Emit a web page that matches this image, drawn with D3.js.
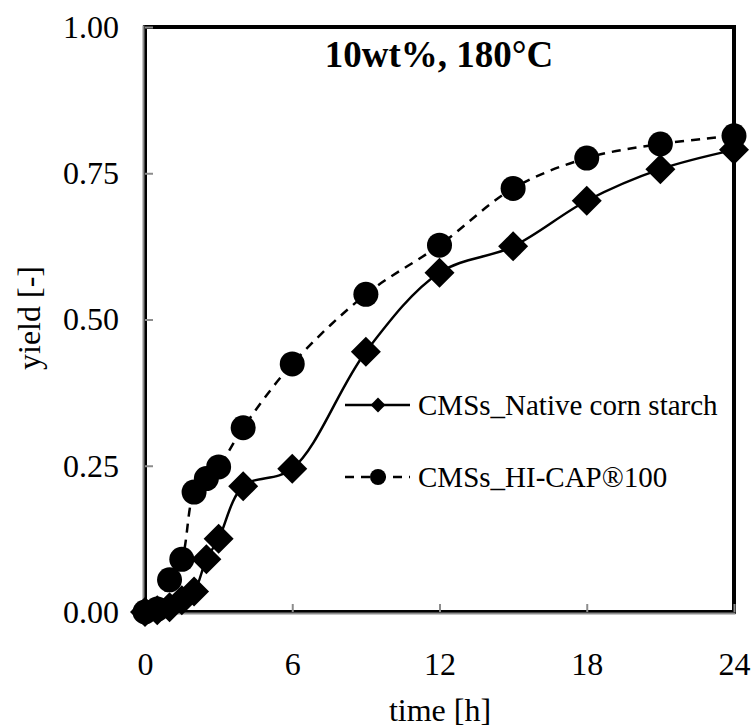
<!DOCTYPE html>
<html>
<head>
<meta charset="utf-8">
<script src="https://cdn.jsdelivr.net/npm/d3@7"></script>
<style>
  body { margin: 0; background: #fff; }
  svg text { font-family: "Liberation Serif", "Times New Roman", serif; fill: #000; }
</style>
</head>
<body>
<div class="yield-chart"></div>
<script>
// time points (h) and yields
var timeNative = [0, 0.5, 1, 1.5, 2, 2.5, 3, 4, 6, 9, 12, 15, 18, 21, 24]
var yieldNative = [0, 0.003, 0.008, 0.02, 0.035, 0.09, 0.125, 0.215, 0.245, 0.445, 0.58, 0.625, 0.703, 0.757, 0.79]
var timeHicap = [0, 0.5, 1, 1.5, 2, 2.5, 3, 4, 6, 9, 12, 15, 18, 21, 24]
var yieldHicap = [0, 0.005, 0.055, 0.09, 0.205, 0.228, 0.248, 0.315, 0.424, 0.543, 0.627, 0.724, 0.776, 0.8, 0.814]
var xTicks = [0, 6, 12, 18, 24]
var yTicks = [0, 0.25, 0.5, 0.75, 1]
var seriesNames = ["CMSs_Native corn starch", "CMSs_HI-CAP\u00AE100"]
var chartTitle = "10wt%, 180\u00B0C"

var width = 751,
    height = 728
var margin = {top: 27, right: 17, bottom: 116, left: 145}
var innerW = width - margin.left - margin.right,
    innerH = height - margin.top - margin.bottom

var svg = d3.select(".yield-chart")
            .append("svg")
            .attr("width", width)
            .attr("height", height)

var x = d3.scaleLinear().domain([0, 24]).range([margin.left, margin.left + innerW])
var y = d3.scaleLinear().domain([0, 1]).range([margin.top + innerH, margin.top])

// frame
svg.append("rect")
    .attr("x", margin.left).attr("y", margin.top)
    .attr("width", innerW).attr("height", innerH)
    .attr("fill", "#fff").attr("stroke", "#000").attr("stroke-width", 4)

// gray axis lines on left and bottom
svg.append("line")
    .attr("x1", margin.left - 1.5).attr("x2", margin.left - 1.5)
    .attr("y1", margin.top - 1.5).attr("y2", margin.top + innerH + 1.5)
    .attr("stroke", "#8c8c8c").attr("stroke-width", 2)
svg.append("line")
    .attr("x1", margin.left - 1.5).attr("x2", margin.left + innerW + 1.5)
    .attr("y1", margin.top + innerH + 1.5).attr("y2", margin.top + innerH + 1.5)
    .attr("stroke", "#8c8c8c").attr("stroke-width", 2)

// axes with inward ticks
var xAxis = svg.append("g")
    .attr("transform", "translate(0," + (margin.top + innerH) + ")")
    .call(d3.axisBottom(x).tickValues(xTicks).tickSize(-8).tickPadding(40))
xAxis.select(".domain").remove()
xAxis.selectAll(".tick line").attr("stroke", "#8c8c8c").attr("stroke-width", 2)
xAxis.selectAll(".tick text").attr("font-size", 32)

var yAxis = svg.append("g")
    .attr("transform", "translate(" + margin.left + ",0)")
    .call(d3.axisLeft(y).tickValues(yTicks).tickSize(-8).tickPadding(26).tickFormat(d3.format(".2f")))
yAxis.select(".domain").remove()
yAxis.selectAll(".tick line").attr("stroke", "#8c8c8c").attr("stroke-width", 2)
yAxis.selectAll(".tick text").attr("font-size", 32)

// axis titles
svg.append("text")
    .attr("x", 440).attr("y", 721)
    .attr("text-anchor", "middle").attr("font-size", 32)
    .text("time [h]")
svg.append("text")
    .attr("transform", "translate(40,318) rotate(-90)")
    .attr("text-anchor", "middle").attr("font-size", 32)
    .text("yield [-]")

// title
svg.append("text")
    .attr("x", 439).attr("y", 67)
    .attr("text-anchor", "middle").attr("font-size", 37).attr("font-weight", "bold")
    .text(chartTitle)

var line = d3.line()
    .x(function(d) { return x(d[0]); })
    .y(function(d) { return y(d[1]); })
    .curve(d3.curveCatmullRom.alpha(0.5))

var nativeData = d3.zip(timeNative, yieldNative)
var hicapData = d3.zip(timeHicap, yieldHicap)

svg.append("path")
    .datum(hicapData)
    .attr("d", line)
    .attr("fill", "none").attr("stroke", "#000").attr("stroke-width", 2.5)
    .attr("stroke-dasharray", "9,7")

svg.append("path")
    .datum(nativeData)
    .attr("d", line)
    .attr("fill", "none").attr("stroke", "#000").attr("stroke-width", 2.5)

var diamond = d3.symbol().type(d3.symbolSquare).size(450)

svg.append("g").selectAll("path")
    .data(nativeData)
    .enter().append("path")
    .attr("d", diamond)
    .attr("transform", function(d) { return "translate(" + x(d[0]) + "," + y(d[1]) + ") rotate(45)"; })
    .attr("fill", "#000")

svg.append("g").selectAll("circle")
    .data(hicapData)
    .enter().append("circle")
    .attr("cx", function(d) { return x(d[0]); })
    .attr("cy", function(d) { return y(d[1]); })
    .attr("r", 12.5)
    .attr("fill", "#000")

// legend
var legend = svg.append("g")
legend.append("line")
    .attr("x1", 345).attr("x2", 410).attr("y1", 405).attr("y2", 405)
    .attr("stroke", "#000").attr("stroke-width", 2.5)
legend.append("path")
    .attr("d", d3.symbol().type(d3.symbolSquare).size(110))
    .attr("transform", "translate(378,405) rotate(45)")
legend.append("text")
    .attr("x", 418).attr("y", 415).attr("font-size", 29)
    .text(seriesNames[0])

legend.append("line")
    .attr("x1", 345).attr("x2", 410).attr("y1", 477).attr("y2", 477)
    .attr("stroke", "#000").attr("stroke-width", 2.5)
    .attr("stroke-dasharray", "9,7")
legend.append("circle")
    .attr("cx", 378).attr("cy", 477).attr("r", 8)
legend.append("text")
    .attr("x", 418).attr("y", 487).attr("font-size", 29)
    .text(seriesNames[1])
</script>
</body>
</html>
